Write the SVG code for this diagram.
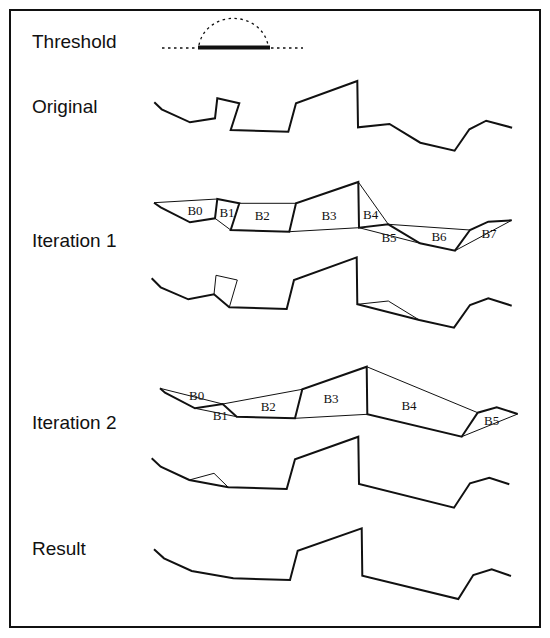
<svg xmlns="http://www.w3.org/2000/svg" width="550" height="638" viewBox="0 0 550 638">
<style>
.lbl{font-family:"Liberation Sans",Arial,sans-serif;font-size:19px;fill:#111}
.b{font-family:"Liberation Serif","Times New Roman",serif;font-size:13px;fill:#111;text-anchor:middle}
.thick{fill:none;stroke:#111;stroke-width:2;stroke-linejoin:miter}
.thin{fill:none;stroke:#111;stroke-width:1}
.dot{fill:none;stroke:#111;stroke-width:1.3;stroke-dasharray:2.5 3.5}
</style>
<rect x="10" y="10" width="530" height="617" fill="#fff" stroke="#111" stroke-width="2"/>

<g id="threshold">
<text class="lbl" x="32" y="48">Threshold</text>
<line class="dot" x1="162" y1="48" x2="198" y2="48"/>
<line class="dot" x1="271" y1="48" x2="303" y2="48"/>
<path class="dot" d="M199,45 A35,32 0 0 1 268,45"/>
<line x1="198" y1="47.5" x2="270" y2="47.5" stroke="#111" stroke-width="4"/>
</g>

<g id="original">
<text class="lbl" x="32" y="113">Original</text>
<polyline class="thick" points="154.3,102.3 161.7,109.3 190,122.3 215,118.3 217.3,98.3 239.3,103.3 230.7,130 288.3,131.7 296,103.3 357.3,81 358,127.3 389.5,124 420.3,142.7 454.6,150.7 469.4,129.3 486.2,120.7 512.1,127.7"/>
</g>

<g id="iteration1">
<text class="lbl" x="32" y="247">Iteration 1</text>
<g id="iter1-bands">
<polyline class="thick" points="154,202.7 160.7,207.3 190,222.3 215,218.3 217.3,199 239.3,203.3 230.7,230 289.3,231.7 296,203.3 358.3,182 359,227.7 388.3,224.3 420,243.3 455,250.7 470,230 488.3,221.7 511.7,220.3"/>
<g class="connectors">
<line class="thin" x1="154" y1="202.7" x2="217.3" y2="199"/>
<line class="thin" x1="215" y1="218.3" x2="230.7" y2="230"/>
<line class="thin" x1="239.3" y1="203.3" x2="296" y2="203.3"/>
<line class="thin" x1="289.3" y1="231.7" x2="359" y2="227.7"/>
<line class="thin" x1="358.3" y1="182" x2="388.3" y2="224.3"/>
<line class="thin" x1="359" y1="227.7" x2="420" y2="243.3"/>
<line class="thin" x1="388.3" y1="224.3" x2="470" y2="230"/>
<line class="thin" x1="455" y1="250.7" x2="511.7" y2="220.3"/>
</g>
<text class="b" x="195" y="215">B0</text>
<text class="b" x="227" y="216.7">B1</text>
<text class="b" x="262.3" y="220">B2</text>
<text class="b" x="329" y="220">B3</text>
<text class="b" x="370.7" y="219.3">B4</text>
<text class="b" x="389" y="241.7">B5</text>
<text class="b" x="439" y="241">B6</text>
<text class="b" x="489" y="237.7">B7</text>
</g>
<g id="iter1-result">
<polyline class="thick" points="151.7,278.3 160.7,287.3 188.3,299.3 214,294.3 229.3,307.3 286.7,309 294,280 356.7,257.3 357.3,304.3 419.3,320 454,327.7 470,305 488.3,298.3 511.7,305.7"/>
<polyline class="thin" points="214,294.3 216,275.3 237.3,280 229.3,307.3"/>
<polyline class="thin" points="357.3,304.3 388.3,301 419.3,320"/>
</g>
</g>

<g id="iteration2">
<text class="lbl" x="32" y="429">Iteration 2</text>
<g id="iter2-bands">
<polyline class="thick" points="160,388.3 165,392.7 195,408.3 222.7,404 236.7,416.7 295,418.3 302.3,389.3 366.7,366.7 367.3,414.3 461.7,436.7 477.7,412.7 496.7,407.3 517.7,414"/>
<g class="connectors">
<line class="thin" x1="160" y1="388.3" x2="222.7" y2="404"/>
<line class="thin" x1="195" y1="408.3" x2="236.7" y2="416.7"/>
<line class="thin" x1="222.7" y1="404" x2="302.3" y2="389.3"/>
<line class="thin" x1="295" y1="418.3" x2="367.3" y2="414.3"/>
<line class="thin" x1="366.7" y1="366.7" x2="477.7" y2="412.7"/>
<line class="thin" x1="461.7" y1="436.7" x2="517.7" y2="414"/>
</g>
<text class="b" x="196.7" y="400">B0</text>
<text class="b" x="220.3" y="420">B1</text>
<text class="b" x="268.3" y="410.7">B2</text>
<text class="b" x="331" y="402.7">B3</text>
<text class="b" x="409" y="410">B4</text>
<text class="b" x="491.7" y="425">B5</text>
</g>
<g id="iter2-result">
<polyline class="thick" points="151.7,458.3 160.7,466.7 189.3,480 228.3,487.3 286.7,489 295,459.3 358.3,436.7 359,484 454,507.7 470,483.3 489.3,477.7 509.3,484.3"/>
<polyline class="thin" points="189.3,480 214,473.3 228.3,487.3"/>
</g>
</g>

<g id="result">
<text class="lbl" x="32" y="555">Result</text>
<polyline class="thick" points="154,549.3 164,558.3 191.7,571 233.3,578.3 290,580 297.7,550.7 361.7,528.3 362.3,575.7 458.3,599 473.3,575 491.7,569.3 511,576"/>
</g>
</svg>
